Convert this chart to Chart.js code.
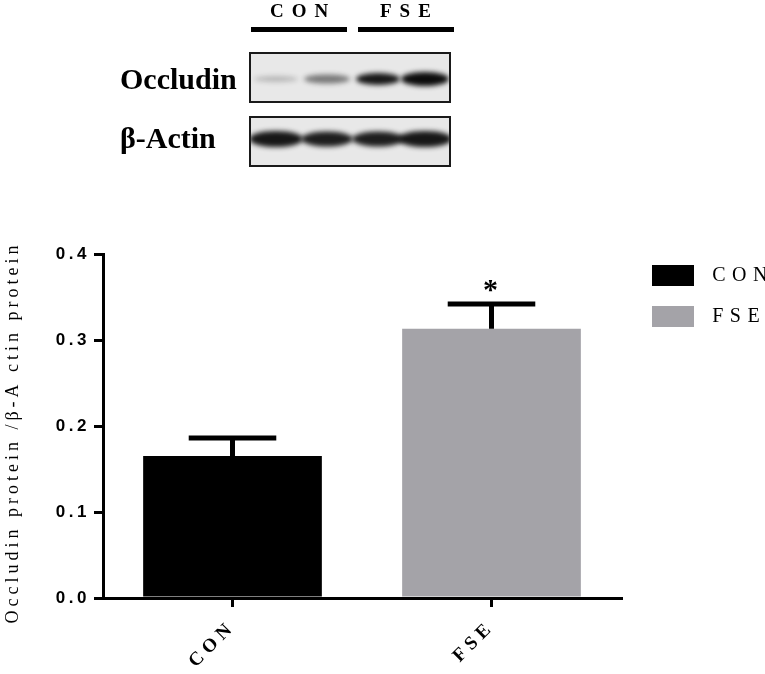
<!DOCTYPE html>
<html>
<head>
<meta charset="utf-8">
<script src="https://cdn.jsdelivr.net/npm/chart.js@4.4.1/dist/chart.umd.min.js"></script>
<style>
  html, body { margin: 0; padding: 0; background: #fff; }
</style>
</head>
<body>
<canvas id="chart" width="765" height="674"></canvas>
<script>
var groups = ['CON', 'FSE'];
var means = [0.165, 0.313];
var errors = [0.021, 0.029];
var marks = ['', '*'];
var yTicks = [0, 0.1, 0.2, 0.3, 0.4];
var colors = ['#000000', '#a4a3a8'];

// blot band darkness per lane (0..1)
var occludinBands = [0.22, 0.5, 0.95, 1.0];
var actinBands = [0.95, 0.92, 0.92, 0.95];

var serif = '"Liberation Serif", "Times New Roman", serif';
var sans = '"Liberation Sans", Arial, sans-serif';

// canvas has letterSpacing, chart.js does not: wrap the draw calls
function spaced(obj, name, ls) {
    if (!obj || obj['_ls_' + name]) return;
    var orig = obj[name];
    obj[name] = function () {
        var ctx = this.ctx;
        ctx.letterSpacing = ls;
        var r = orig.apply(this, arguments);
        ctx.letterSpacing = '0px';
        return r;
    };
    obj['_ls_' + name] = true;
}

var spacingPlugin = {
    id: 'spacing',
    afterUpdate: function (chart) {
        spaced(chart.scales.x, 'drawLabels', '5px');
        spaced(chart.scales.y, 'drawLabels', '3.5px');
        spaced(chart.scales.y, 'drawTitle', '4px');
        spaced(chart.legend, 'draw', '6.5px');
    },
    afterLayout: function (chart) {
        var lg = chart.legend;
        lg.left = 632; lg.right = 765;
        lg.top = 245; lg.bottom = 400;
        lg.width = lg.right - lg.left;
        lg.height = lg.bottom - lg.top;
    }
};

var errorBarPlugin = {
    id: 'errorBars',
    afterDatasetsDraw: function (chart) {
        var ctx = chart.ctx, y = chart.scales.y;
        ctx.save();
        chart.data.datasets.forEach(function (ds, di) {
            var meta = chart.getDatasetMeta(di);
            meta.data.forEach(function (bar, i) {
                if (ds.data[i] == null) return;
                var top = y.getPixelForValue(means[i] + errors[i]);
                var half = bar.width * 0.245;
                ctx.strokeStyle = '#000';
                ctx.lineWidth = 5;
                ctx.beginPath();
                ctx.moveTo(bar.x, bar.y);
                ctx.lineTo(bar.x, top);
                ctx.moveTo(bar.x - half, top);
                ctx.lineTo(bar.x + half, top);
                ctx.stroke();
                if (marks[i]) {
                    ctx.fillStyle = '#000';
                    ctx.font = 'bold 30px ' + serif;
                    ctx.textAlign = 'center';
                    ctx.textBaseline = 'alphabetic';
                    ctx.fillText(marks[i], bar.x - 1, top - 5);
                }
            });
        });
        ctx.restore();
    }
};

function drawBlot(ctx, top, bandY, bands, ry, rx) {
    var left = 250, w = 200, h = 49;
    var lanes = [276, 327, 378, 425];
    ctx.save();
    ctx.fillStyle = '#e8e8e8';
    ctx.fillRect(left, top, w, h);
    ctx.beginPath();
    ctx.rect(left, top, w, h);
    ctx.clip();
    ctx.filter = 'blur(2.5px)';
    bands.forEach(function (a, i) {
        ctx.fillStyle = 'rgba(12,12,12,' + a + ')';
        ctx.beginPath();
        ctx.ellipse(lanes[i], bandY, rx[i], ry[i], 0, 0, Math.PI * 2);
        ctx.fill();
    });
    ctx.filter = 'none';
    ctx.restore();
    ctx.strokeStyle = '#1a1a1a';
    ctx.lineWidth = 2;
    ctx.strokeRect(left, top, w, h);
}

var blotPlugin = {
    id: 'blot',
    afterDraw: function (chart) {
        var ctx = chart.ctx;
        ctx.save();
        ctx.fillStyle = '#000';
        ctx.textBaseline = 'alphabetic';
        ctx.textAlign = 'left';
        ctx.font = 'bold 19px ' + serif;
        ctx.letterSpacing = '8px';
        ctx.fillText(groups[0], 270, 17);
        ctx.fillText(groups[1], 380, 17);
        ctx.letterSpacing = '0px';
        ctx.fillRect(251, 27, 96, 5);
        ctx.fillRect(358, 27, 96, 5);
        ctx.font = 'bold 30px ' + serif;
        ctx.fillText('Occludin', 120, 89);
        ctx.fillText('\u03b2-Actin', 120, 148);
        drawBlot(ctx, 53, 79, occludinBands, [3, 4.5, 6, 7], [22, 23, 22, 24]);
        drawBlot(ctx, 117, 139, actinBands, [8, 7.5, 7.5, 8], [27, 26, 26, 27]);
        ctx.restore();
    }
};

var datasets = groups.map(function (g, i) {
    return {
        label: g,
        data: groups.map(function (_, j) { return j === i ? means[i] : null; }),
        backgroundColor: colors[i],
        borderWidth: 0,
        barPercentage: 0.69,
        categoryPercentage: 1,
        grouped: false
    };
});

var myChart = new Chart(document.getElementById('chart'), {
    type: 'bar',
    data: { labels: groups, datasets: datasets },
    plugins: [spacingPlugin, errorBarPlugin, blotPlugin],
    options: {
        responsive: false,
        animation: false,
        layout: { padding: { top: 254, right: 144, bottom: 0, left: 0 } },
        plugins: {
            tooltip: { enabled: false },
            legend: {
                position: 'chartArea',
                align: 'start',
                labels: {
                    boxWidth: 42,
                    boxHeight: 21,
                    padding: 20,
                    color: '#000',
                    font: { family: serif, size: 20 },
                    generateLabels: function (chart) {
                        return Chart.defaults.plugins.legend.labels.generateLabels(chart).map(function (l) {
                            l.text = '\u200a' + l.text;
                            return l;
                        });
                    }
                }
            }
        },
        scales: {
            x: {
                afterFit: function (s) { s.height = 76; },
                grid: { display: true, offset: false, drawOnChartArea: false, drawTicks: true, tickLength: 9, lineWidth: 3, color: '#000' },
                border: { display: true, width: 3, color: '#000' },
                ticks: {
                    color: '#000',
                    minRotation: 45,
                    maxRotation: 45,
                    padding: 9,
                    font: { family: serif, size: 19, weight: 'bold' }
                }
            },
            y: {
                min: 0,
                max: 0.4,
                afterFit: function (s) { s.width = 103; },
                afterBuildTicks: function (s) {
                    s.ticks = yTicks.map(function (v) { return { value: v }; });
                },
                grid: { display: true, drawOnChartArea: false, drawTicks: true, tickLength: 9, lineWidth: 3, color: '#000' },
                border: { display: true, width: 3, color: '#000' },
                ticks: {
                    color: '#000',
                    padding: 4,
                    font: { family: sans, size: 17, weight: 'bold' },
                    callback: function (v) { return Number(v).toFixed(1); }
                },
                title: {
                    display: true,
                    text: 'Occludin protein /\u03b2-A ctin protein\u2002',
                    color: '#000',
                    padding: { top: 2, bottom: 0 },
                    font: { family: serif, size: 18 }
                }
            }
        }
    }
});
</script>
</body>
</html>
